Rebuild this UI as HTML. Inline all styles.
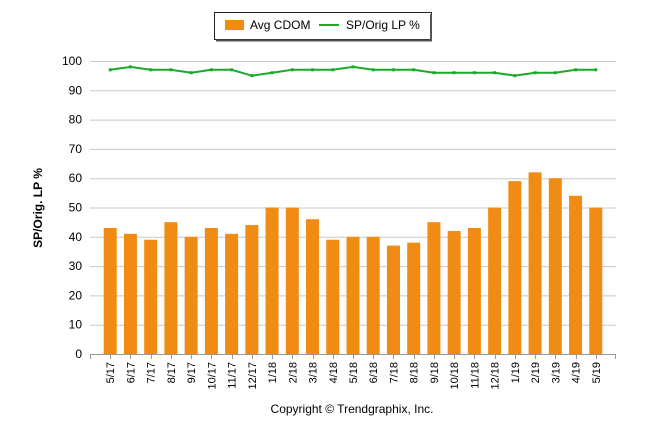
<!DOCTYPE html>
<html><head><meta charset="utf-8"><style>
body{margin:0;background:#fff;font-family:"Liberation Sans",sans-serif}
</style></head><body>
<svg width="646" height="434" xmlns="http://www.w3.org/2000/svg" font-family="Liberation Sans, sans-serif">
<g>
<rect x="214.5" y="12.5" width="217" height="27" fill="#fff" stroke="#222"/>
<line x1="431" y1="14" x2="431" y2="41" stroke="#555" stroke-width="2"/>
<line x1="216" y1="40.5" x2="432" y2="40.5" stroke="#555" stroke-width="2"/>
<rect x="225" y="20" width="19" height="10" fill="#f08c14"/>
<text x="250" y="29" font-size="12" fill="#000">Avg CDOM</text>
<line x1="319" y1="25" x2="339" y2="25" stroke="#1aaa2a" stroke-width="2"/>
<text x="346" y="29" font-size="12" fill="#000">SP/Orig LP %</text>
</g>
<g id="grid"></g><g id="bars"></g><g id="line"></g><g id="axes"></g>
<text transform="translate(42,208) rotate(-90)" text-anchor="middle" font-size="12" font-weight="bold">SP/Orig. LP %</text>
<text x="352" y="413" text-anchor="middle" font-size="12">Copyright © Trendgraphix, Inc.</text>
</svg>
<script>
const categories=["5/17","6/17","7/17","8/17","9/17","10/17","11/17","12/17","1/18","2/18","3/18","4/18","5/18","6/18","7/18","8/18","9/18","10/18","11/18","12/18","1/19","2/19","3/19","4/19","5/19"];
const cdom=[43,41,39,45,40,43,41,44,50,50,46,39,40,40,37,38,45,42,43,50,59,62,60,54,50];
const splp=[97,98,97,97,96,97,97,95,96,97,97,97,98,97,97,97,96,96,96,96,95,96,96,97,97];
const yTicks=[0,10,20,30,40,50,60,70,80,90,100];
const NS="http://www.w3.org/2000/svg";
const L=90,R=616,T=61,B=354;
const step=(R-L)/(categories.length+1);
const x=i=>L+(i+1)*step;
const y=v=>B-(B-T)*v/100;
function mk(t,a,p){const e=document.createElementNS(NS,t);for(const k in a)e.setAttribute(k,a[k]);p.appendChild(e);return e;}
const G=document.getElementById('grid'),Bs=document.getElementById('bars'),Ln=document.getElementById('line'),A=document.getElementById('axes');
yTicks.forEach(v=>{
 const g=mk('line',{x1:L,x2:R,y1:y(v)+.5,y2:y(v)+.5,stroke:'#c8c8c8'},G);
 
 
 const t=mk('text',{x:82,y:y(v)+4,'text-anchor':'end','font-size':12},A);t.textContent=v;
 
 
});
const ax=mk('line',{x1:L,x2:R,y1:B+.5,y2:B+.5,stroke:'#999'},A);


mk('line',{x1:L+.5,x2:L+.5,y1:B,y2:B+5,stroke:'#999'},A);
mk('line',{x1:R-.5,x2:R-.5,y1:B,y2:B+5,stroke:'#999'},A);
categories.forEach((c,i)=>{
 const b=mk('rect',{x:x(i)-6.5,y:y(cdom[i]),width:13,height:B-y(cdom[i]),fill:'#f08c14'},Bs);
 
 
 mk('line',{x1:Math.round(x(i))+.5,x2:Math.round(x(i))+.5,y1:B,y2:B+5,stroke:'#999'},A);
 const t=mk('text',{transform:`translate(${x(i)+4},${B+8}) rotate(-90)`,'text-anchor':'end','font-size':11},A);t.textContent=c;
 
 
});
const pl=mk('polyline',{points:splp.map((v,i)=>x(i)+','+y(v)).join(' '),fill:'none',stroke:'#1aaa2a','stroke-width':2},Ln);


splp.forEach((v,i)=>{const p=mk('rect',{x:x(i)-1.5,y:y(v)-1.5,width:3,height:3,fill:'#1aaa2a'},Ln);
 
 });
</script>
</body></html>
